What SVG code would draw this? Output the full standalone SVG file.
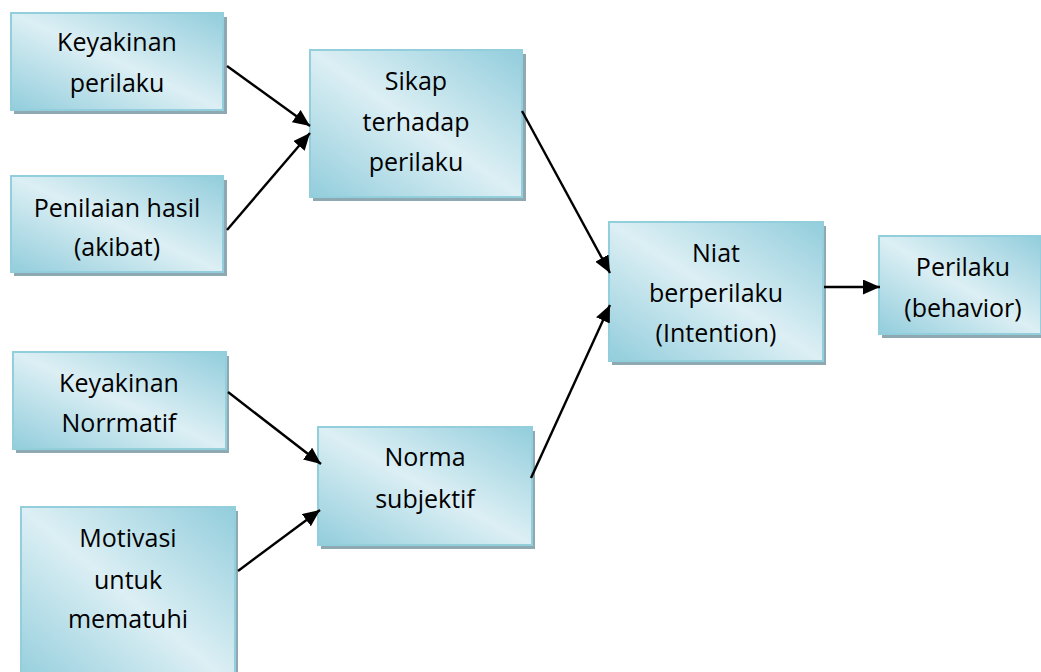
<svg xmlns="http://www.w3.org/2000/svg" width="1041" height="672" viewBox="0 0 1041 672">
<defs>
<linearGradient id="g" x1="1" y1="0" x2="0" y2="1">
<stop offset="0" stop-color="#92CDDC"/>
<stop offset="0.5" stop-color="#DCEFF4"/>
<stop offset="1" stop-color="#92CDDC"/>
</linearGradient>
<marker id="ah" markerUnits="userSpaceOnUse" markerWidth="18" markerHeight="16" refX="17" refY="7.5" orient="auto">
<path d="M0,0 L17,7.5 L0,15 z" fill="#000"/>
</marker>
<style>
.sh{fill:#8FA9B2}
.bx{fill:url(#g);stroke:#93CEDD;stroke-width:2}
.t{font-family:"Open Sans","Liberation Sans",sans-serif;font-size:25px;fill:#000;text-anchor:middle}
.c line{stroke:#000;stroke-width:2.4;marker-end:url(#ah)}
</style>
</defs>
<rect width="1041" height="672" fill="#fff"/>
<g id="n1"><rect class="sh" x="14" y="17" width="213" height="97"/><rect class="bx" x="11" y="13" width="212" height="97"/>
<text class="t" x="117" y="51">Keyakinan</text><text class="t" x="117" y="92">perilaku</text></g>
<g id="n2"><rect class="sh" x="14" y="180" width="213" height="96"/><rect class="bx" x="11" y="176" width="212" height="96"/>
<text class="t" x="117" y="217">Penilaian hasil</text><text class="t" x="117" y="256">(akibat)</text></g>
<g id="n3"><rect class="sh" x="313" y="54" width="213" height="147"/><rect class="bx" x="310" y="50" width="212" height="147"/>
<text class="t" x="416" y="90">Sikap</text><text class="t" x="416" y="131">terhadap</text><text class="t" x="416" y="171">perilaku</text></g>
<g id="n4"><rect class="sh" x="612" y="226" width="214" height="139"/><rect class="bx" x="609" y="222" width="214" height="139"/>
<text class="t" x="716" y="262">Niat</text><text class="t" x="716" y="302">berperilaku</text><text class="t" x="716" y="342">(Intention)</text></g>
<g id="n5"><rect class="sh" x="882" y="240" width="162" height="98"/><rect class="bx" x="879" y="236" width="162" height="98"/>
<text class="t" x="963" y="276">Perilaku</text><text class="t" x="963" y="317">(behavior)</text></g>
<g id="n6"><rect class="sh" x="16" y="356" width="213" height="97"/><rect class="bx" x="13" y="352" width="213" height="97"/>
<text class="t" x="119" y="392">Keyakinan</text><text class="t" x="119" y="432">Norrmatif</text></g>
<g id="n7"><rect class="sh" x="321" y="431" width="214" height="118"/><rect class="bx" x="318" y="427" width="214" height="118"/>
<text class="t" x="425" y="466">Norma</text><text class="t" x="425" y="508">subjektif</text></g>
<g id="n8"><rect class="sh" x="24" y="511" width="214" height="180"/><rect class="bx" x="21" y="507" width="214" height="180"/>
<text class="t" x="128" y="547">Motivasi</text><text class="t" x="128" y="589">untuk</text><text class="t" x="128" y="628">mematuhi</text></g>
<g id="connectors" class="c">
<line x1="227" y1="66" x2="310" y2="126"/>
<line x1="227" y1="230" x2="310" y2="133"/>
<line x1="522" y1="111" x2="610" y2="273"/>
<line x1="531" y1="478" x2="610" y2="305"/>
<line x1="824" y1="287" x2="880" y2="287"/>
<line x1="228" y1="392" x2="321" y2="464"/>
<line x1="238" y1="571" x2="320" y2="510"/>
</g>
</svg>
